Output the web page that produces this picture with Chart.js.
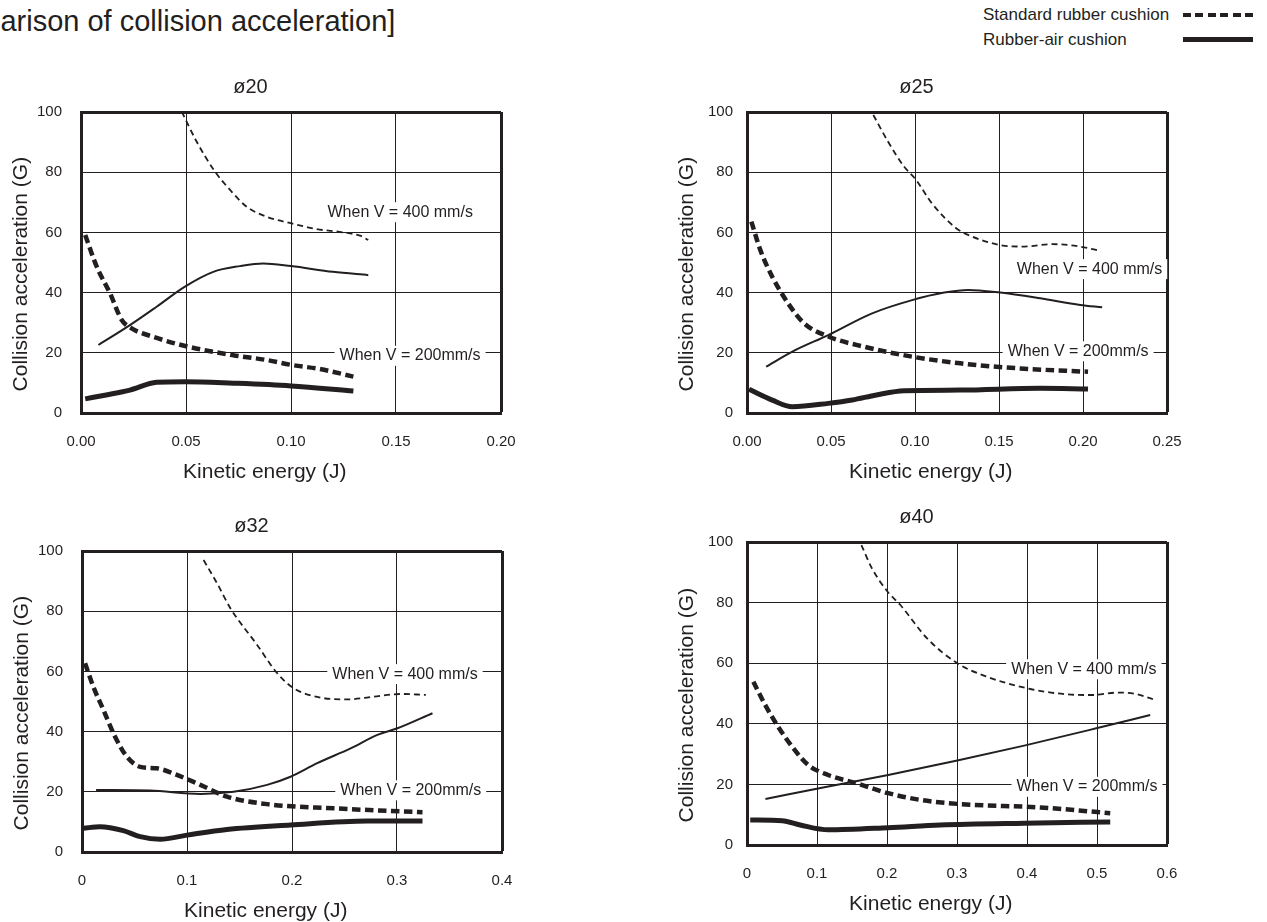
<!DOCTYPE html>
<html>
<head>
<meta charset="utf-8">
<title>Comparison of collision acceleration</title>
<script src="https://cdn.jsdelivr.net/npm/chart.js@4.4.1/dist/chart.umd.min.js"></script>
<style>
    html, body { margin: 0; padding: 0; background: #fff; }
    body {
        width: 1267px; height: 922px; position: relative; overflow: hidden;
        font-family: "Liberation Sans", Arial, Helvetica, sans-serif; color: #231f20;
    }
    .page-title { position: absolute; left: -85px; top: 7px; font-size: 29px; line-height: 29px; white-space: nowrap; }
    .legend-label { position: absolute; left: 983px; font-size: 17px; line-height: 17px; white-space: nowrap; }
    .legend-line { position: absolute; left: 1183px; width: 70px; }
    .legend-line.dashed { top: 13px; height: 4px; background: repeating-linear-gradient(90deg, #231f20 0 8px, transparent 8px 12.4px); }
    .legend-line.solid { top: 37px; height: 5px; background: #231f20; }
    canvas { position: absolute; }
</style>
</head>
<body>
<div class="page-title">[Comparison of collision acceleration]</div>
<div class="legend-label" style="top:6px">Standard rubber cushion</div>
<div class="legend-line dashed"></div>
<div class="legend-label" style="top:31px">Rubber-air cushion</div>
<div class="legend-line solid"></div>

<canvas id="chart-20" width="520" height="420" style="left:0;top:70px"></canvas>
<canvas id="chart-25" width="520" height="420" style="left:666px;top:70px"></canvas>
<canvas id="chart-32" width="520" height="420" style="left:1px;top:509px"></canvas>
<canvas id="chart-40" width="520" height="422" style="left:666px;top:500px"></canvas>

<script>
var INK = '#231f20';
var FONT = '"Liberation Sans", Arial, Helvetica, sans-serif';

var bores = ['ø20', 'ø25', 'ø32', 'ø40'];
var speedLabels = ['When V = 400 mm/s', 'When V = 200mm/s'];

var yTicks = [0, 20, 40, 60, 80, 100];
var yTickLabels = ['0', '20', '40', '60', '80', '100'];

var xTicks20 = [0, 0.05, 0.1, 0.15, 0.2];
var xTickLabels20 = ['0.00', '0.05', '0.10', '0.15', '0.20'];
var xTicks25 = [0, 0.05, 0.1, 0.15, 0.2, 0.25];
var xTickLabels25 = ['0.00', '0.05', '0.10', '0.15', '0.20', '0.25'];
var xTicks32 = [0, 0.1, 0.2, 0.3, 0.4];
var xTickLabels32 = ['0', '0.1', '0.2', '0.3', '0.4'];
var xTicks40 = [0, 0.1, 0.2, 0.3, 0.4, 0.5, 0.6];
var xTickLabels40 = ['0', '0.1', '0.2', '0.3', '0.4', '0.5', '0.6'];

// [kinetic energy (J), collision acceleration (G)]
var std400_20 = [[0.048, 100.1], [0.0551, 90.1], [0.0638, 80.2], [0.071, 74.1], [0.0789, 68.5], [0.0884, 65.2], [0.1003, 63], [0.1122, 61.1], [0.1249, 60], [0.1329, 58.9], [0.1368, 57.5]];
var std200_20 = [[0.002, 59.1], [0.0075, 48.6], [0.0138, 39.8], [0.0194, 30.9], [0.0241, 28.1], [0.0344, 25.3], [0.0506, 22.1], [0.0725, 19.2], [0.0884, 17.6], [0.1, 16], [0.1138, 14.6], [0.1297, 12.1]];
var air400_20 = [[0.0083, 22.6], [0.0233, 29.2], [0.036, 35.3], [0.0495, 42], [0.063, 46.9], [0.0757, 48.8], [0.0868, 49.7], [0.1, 48.8], [0.12, 46.9], [0.1368, 45.8]];
var air200_20 = [[0.002, 4.7], [0.012, 6], [0.0233, 7.6], [0.036, 10.2], [0.0497, 10.4], [0.0725, 9.9], [0.1, 9], [0.1297, 7.3]];

var std400_25 = [[0.0752, 99], [0.084, 90.1], [0.0936, 81.8], [0.1007, 77.4], [0.11, 69.7], [0.1245, 61.4], [0.134, 58.6], [0.1507, 55.8], [0.165, 55.3], [0.1817, 56.1], [0.198, 55.3], [0.2107, 53.8]];
var std200_25 = [[0.0026, 63.6], [0.0079, 54.2], [0.015, 45.3], [0.0245, 36.4], [0.034, 29.8], [0.0484, 25.4], [0.0698, 22], [0.0984, 18.7], [0.127, 16.5], [0.1626, 14.8], [0.203, 13.7]];
var air400_25 = [[0.0114, 15.4], [0.027, 20.4], [0.0484, 25.9], [0.0745, 33.1], [0.0983, 37.5], [0.1174, 40], [0.1317, 40.9], [0.1507, 40], [0.1745, 38.1], [0.1983, 35.9], [0.2114, 35.1]];
var air200_25 = [[0.0012, 7.9], [0.015, 4.3], [0.027, 2.1], [0.0484, 3.2], [0.0626, 4.3], [0.077, 6], [0.0936, 7.4], [0.127, 7.6], [0.1745, 8.2], [0.203, 8]];

var std400_32 = [[0.1158, 97], [0.1286, 89.3], [0.1413, 81], [0.1668, 68.8], [0.1859, 59.4], [0.2017, 54.4], [0.2272, 51.3], [0.2527, 50.7], [0.2781, 51.6], [0.3036, 52.5], [0.3275, 52.2]];
var std200_32 = [[0.0029, 62.7], [0.0108, 54.9], [0.0204, 47.2], [0.0315, 38.3], [0.0427, 31.7], [0.0554, 28.3], [0.0713, 27.8], [0.0904, 25.6], [0.1127, 22.3], [0.1381, 18.4], [0.1763, 15.9], [0.24, 14.5], [0.3243, 13.2]];
var air400_32 = [[0.0134, 20.6], [0.0649, 20.4], [0.1127, 19.3], [0.1444, 20], [0.1763, 22.3], [0.1986, 25], [0.224, 29.5], [0.2558, 34.4], [0.2813, 38.9], [0.3004, 41.1], [0.3338, 46.1]];
var air200_32 = [[0.0013, 7.9], [0.0172, 8.4], [0.0394, 7.1], [0.0554, 5.1], [0.0745, 4.2], [0.1, 5.6], [0.138, 7.5], [0.1986, 9], [0.2718, 10.3], [0.3243, 10.3]];

var std400_40 = [[0.1634, 99], [0.1785, 91.3], [0.2009, 83.6], [0.2191, 79.2], [0.2573, 68.2], [0.3003, 60], [0.3433, 55.5], [0.4005, 51.7], [0.4531, 49.8], [0.4932, 49.5], [0.5303, 50.3], [0.556, 49.8], [0.58, 48.1]];
var std200_40 = [[0.0091, 53.9], [0.0246, 46.8], [0.0446, 39], [0.0646, 32.4], [0.0874, 26.4], [0.116, 23.1], [0.156, 20.4], [0.2017, 17.1], [0.2474, 14.9], [0.3046, 13.5], [0.4189, 12.4], [0.5189, 10.5]];
var air400_40 = [[0.0263, 15.2], [0.116, 19.3], [0.2017, 23.1], [0.2988, 27.8], [0.396, 32.8], [0.4989, 38.5], [0.576, 42.9]];
var air200_40 = [[0.0046, 8.25], [0.0503, 8], [0.076, 6.6], [0.116, 5], [0.2017, 5.7], [0.276, 6.6], [0.396, 7.2], [0.5189, 7.6]];

// where the "When V = ..." notes sit, in data units
var notes20 = [[0.152, 66.7], [0.1567, 19]];
var notes25 = [[0.2039, 47.8], [0.1971, 20.5]];
var notes32 = [[0.3076, 59.1], [0.3131, 20.5]];
var notes40 = [[0.4812, 58], [0.4857, 19.2]];

// the axis titles sit a little off centre in the original, trailing spaces nudge them
var NB = '\u00a0';
var xTitle = 'Kinetic energy (J)' + NB.repeat(9);
var yTitle = 'Collision acceleration (G)' + NB.repeat(4);

Chart.defaults.font.family = FONT;
Chart.defaults.color = INK;

var speedNotePlugin = {
    id: 'speedNotes',
    beforeDatasetsDraw: function(chart, args, opts) {
        var ctx = chart.ctx;
        var xs = chart.scales.x;
        var ys = chart.scales.y;
        ctx.save();
        ctx.font = '16px ' + FONT;
        ctx.textAlign = 'center';
        ctx.textBaseline = 'middle';
        (opts.points || []).forEach(function(p, i) {
            var px = xs.getPixelForValue(p[0]);
            var py = ys.getPixelForValue(p[1]);
            var w = ctx.measureText(speedLabels[i]).width;
            ctx.fillStyle = '#fff';
            ctx.fillRect(px - w / 2 - 5, py - 10, w + 10, 20);
            ctx.fillStyle = INK;
            ctx.fillText(speedLabels[i], px, py);
        });
        ctx.restore();
    }
};

function toPoints(pairs) {
    return pairs.map(function(p) { return { x: p[0], y: p[1] }; });
}

function edgeWidth(max) {
    return function(c) {
        return c.tick && c.tick.value === max ? 3 : 1;
    };
}

function makeChart(id, bore, xTicks, xTickLabels, std400, std200, air400, air200, notes, yPad) {
    var xMax = xTicks[xTicks.length - 1];
    var yMax = yTicks[yTicks.length - 1];
    var line = { borderColor: INK, pointRadius: 0, fill: false, cubicInterpolationMode: 'monotone' };

    return new Chart(document.getElementById(id), {
        type: 'line',
        data: {
            datasets: [
                Object.assign({ label: 'Standard rubber cushion, V = 400 mm/s', data: toPoints(std400), borderWidth: 1.8, borderDash: [6, 4] }, line),
                Object.assign({ label: 'Standard rubber cushion, V = 200 mm/s', data: toPoints(std200), borderWidth: 4.5, borderDash: [8.5, 4.5] }, line),
                Object.assign({ label: 'Rubber-air cushion, V = 400 mm/s', data: toPoints(air400), borderWidth: 2 }, line),
                Object.assign({ label: 'Rubber-air cushion, V = 200 mm/s', data: toPoints(air200), borderWidth: 5 }, line)
            ]
        },
        options: {
            responsive: false,
            animation: false,
            layout: { padding: { left: 0, right: 19, top: 0, bottom: 5 } },
            plugins: {
                legend: { display: false },
                tooltip: { enabled: false },
                title: {
                    display: true, text: bore, color: INK,
                    font: { size: 20, weight: 'normal' },
                    padding: { top: 5, bottom: 13 }
                },
                speedNotes: { points: notes }
            },
            scales: {
                x: {
                    type: 'linear', min: xTicks[0], max: xMax,
                    afterBuildTicks: function(scale) {
                        scale.ticks = xTicks.map(function(v) { return { value: v }; });
                    },
                    afterFit: function(scale) {
                        scale.height = 72;
                        // labels may hang over the plot edge, keep the plot box fixed
                        scale.paddingLeft = 0;
                        scale.paddingRight = 0;
                    },
                    ticks: {
                        callback: function(v, i) { return xTickLabels[i]; },
                        padding: 20, color: INK, font: { size: 15 },
                        maxRotation: 0, autoSkip: false
                    },
                    grid: { color: INK, lineWidth: edgeWidth(xMax), drawTicks: false },
                    border: { display: true, color: INK, width: 3 },
                    title: {
                        display: true, text: xTitle, color: INK,
                        font: { size: 21 }, padding: { top: 0, bottom: 0 }
                    }
                },
                y: {
                    type: 'linear', min: yTicks[0], max: yMax,
                    afterBuildTicks: function(scale) {
                        scale.ticks = yTicks.map(function(v) { return { value: v }; });
                    },
                    afterFit: function(scale) {
                        scale.width = 81;
                        scale.paddingTop = 0;
                        scale.paddingBottom = 0;
                    },
                    ticks: {
                        callback: function(v, i) { return yTickLabels[i]; },
                        padding: yPad, color: INK, font: { size: 15 }
                    },
                    grid: { color: INK, lineWidth: edgeWidth(yMax), drawTicks: false },
                    border: { display: true, color: INK, width: 3 },
                    title: {
                        display: true, text: yTitle, color: INK,
                        font: { size: 21 }, padding: { top: 9, bottom: 0 }
                    }
                }
            }
        },
        plugins: [speedNotePlugin]
    });
}

makeChart('chart-20', bores[0], xTicks20, xTickLabels20, std400_20, std200_20, air400_20, air200_20, notes20, 19);
makeChart('chart-25', bores[1], xTicks25, xTickLabels25, std400_25, std200_25, air400_25, air200_25, notes25, 14);
makeChart('chart-32', bores[2], xTicks32, xTickLabels32, std400_32, std200_32, air400_32, air200_32, notes32, 19);
makeChart('chart-40', bores[3], xTicks40, xTickLabels40, std400_40, std200_40, air400_40, air200_40, notes40, 14);
</script>
</body>
</html>
